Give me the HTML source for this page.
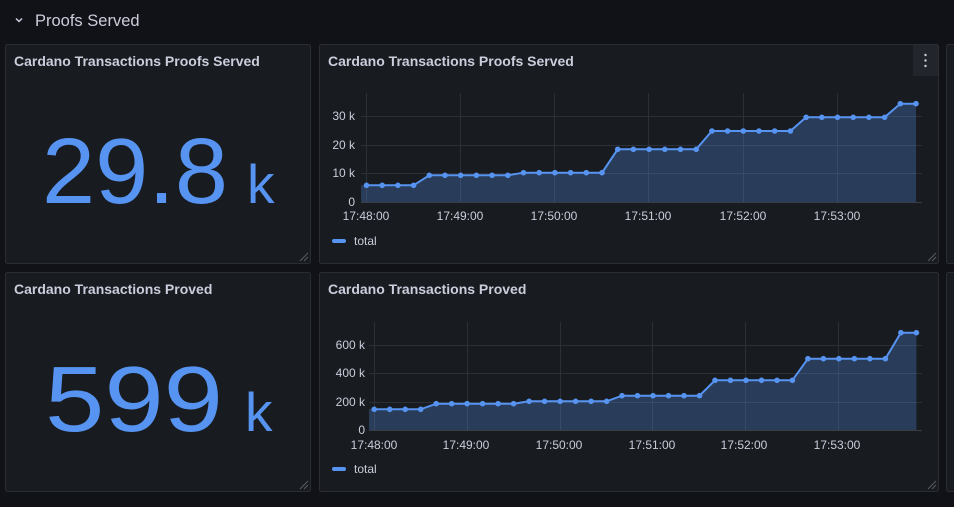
<!DOCTYPE html>
<html><head><meta charset="utf-8"><style>
html,body{margin:0;padding:0;background:#111217;}
svg{display:block;font-family:"Liberation Sans",sans-serif;}
</style></head><body>
<svg width="954" height="507" viewBox="0 0 954 507" xmlns="http://www.w3.org/2000/svg">
<defs>
<marker id="dot" viewBox="0 0 6 6" refX="3" refY="3" markerWidth="6" markerHeight="6" markerUnits="userSpaceOnUse"><circle cx="3" cy="3" r="2.8" fill="#5794f2"/></marker>
</defs>
<rect width="954" height="507" fill="#111217"/>
<path d="M16 18.5 L19 21.5 L22 18.5" fill="none" stroke="#ccccdc" stroke-width="1.5"/>
<text x="35" y="26" font-size="16.5" fill="#ccccdc">Proofs Served</text>

<g fill="#181b1f" stroke="#2a2d33" stroke-width="1">
<rect x="5.5" y="44.5" width="305" height="219" rx="2"/>
<rect x="319.5" y="44.5" width="619" height="219" rx="2"/>
<rect x="946.5" y="44.5" width="20" height="219" rx="2"/>
<rect x="5.5" y="272.5" width="305" height="219" rx="2"/>
<rect x="319.5" y="272.5" width="619" height="219" rx="2"/>
<rect x="946.5" y="272.5" width="20" height="219" rx="2"/>
</g>
<rect x="913" y="45" width="25" height="31" fill="#22252b"/>
<g fill="#ccccdc"><circle cx="925.5" cy="55" r="1.2"/><circle cx="925.5" cy="60.5" r="1.2"/><circle cx="925.5" cy="66" r="1.2"/></g>
<g stroke="#5a5d63" stroke-width="1">
<path d="M300 261 L308 253 M304 261 L308 257"/>
<path d="M928 261 L936 253 M932 261 L936 257"/>
<path d="M300 489 L308 481 M304 489 L308 485"/>
<path d="M928 489 L936 481 M932 489 L936 485"/>
</g>

<g font-size="14" fill="#ccccdc" font-weight="bold">
<text x="14" y="66">Cardano Transactions Proofs Served</text>
<text x="328" y="66">Cardano Transactions Proofs Served</text>
<text x="14" y="294">Cardano Transactions Proved</text>
<text x="328" y="294">Cardano Transactions Proved</text>
</g>

<g fill="#5794f2">
<text x="42" y="203" font-size="93" textLength="186" lengthAdjust="spacingAndGlyphs">29.8</text>
<text x="247" y="203" font-size="55">k</text>
<text x="45" y="431" font-size="93" textLength="178" lengthAdjust="spacingAndGlyphs">599</text>
<text x="245" y="431" font-size="55">k</text>
</g>

<g stroke="#2c2f35" stroke-width="1">
<path d="M366.5 93 V202 M460.5 93 V202 M554.5 93 V202 M648.5 93 V202 M743.5 93 V202 M837.5 93 V202"/>
<path d="M361 173.5 H922 M361 145.5 H922 M361 116.5 H922"/>
<path d="M361 202.5 H922" stroke="#3a3d43"/>
</g>
<g font-size="12" fill="#ccccdc" text-anchor="end">
<text x="355" y="206">0</text><text x="355" y="177">10 k</text><text x="355" y="149">20 k</text><text x="355" y="120">30 k</text>
</g>
<g font-size="12" fill="#ccccdc" text-anchor="middle">
<text x="366" y="220">17:48:00</text><text x="460" y="220">17:49:00</text><text x="554" y="220">17:50:00</text><text x="648" y="220">17:51:00</text><text x="743" y="220">17:52:00</text><text x="837" y="220">17:53:00</text>
</g>
<polygon fill="#5794f2" fill-opacity="0.28" points="361,202 361,185.3 413.6,185.3 429.3,175.3 507.8,175.3 523.5,172.7 602,172.7 617.7,149.3 696.2,149.3 711.9,131 790.4,131 806.1,117.3 884.6,117.3 900.3,103.7 916,103.7 916,202"/>
<polyline fill="none" stroke="#5794f2" stroke-width="2" marker-start="url(#dot)" marker-mid="url(#dot)" marker-end="url(#dot)" points="366.5,185.3 382.2,185.3 397.9,185.3 413.6,185.3 429.3,175.3 445,175.3 460.7,175.3 476.4,175.3 492.1,175.3 507.8,175.3 523.5,172.7 539.2,172.7 554.9,172.7 570.6,172.7 586.3,172.7 602,172.7 617.7,149.3 633.4,149.3 649.1,149.3 664.8,149.3 680.5,149.3 696.2,149.3 711.9,131 727.6,131 743.3,131 759,131 774.7,131 790.4,131 806.1,117.3 821.8,117.3 837.5,117.3 853.2,117.3 868.9,117.3 884.6,117.3 900.3,103.7 916,103.7"/>
<rect x="332" y="239" width="14" height="4" rx="2" fill="#5794f2"/>
<text x="354" y="245" font-size="12" fill="#ccccdc">total</text>

<g stroke="#2c2f35" stroke-width="1">
<path d="M374.5 322 V430 M467.5 322 V430 M560.5 322 V430 M652.5 322 V430 M745.5 322 V430 M838.5 322 V430"/>
<path d="M369 402.5 H922 M369 373.5 H922 M369 345.5 H922"/>
<path d="M369 430.5 H922" stroke="#3a3d43"/>
</g>
<g font-size="12" fill="#ccccdc" text-anchor="end">
<text x="365" y="434">0</text><text x="365" y="406">200 k</text><text x="365" y="377">400 k</text><text x="365" y="349">600 k</text>
</g>
<g font-size="12" fill="#ccccdc" text-anchor="middle">
<text x="374" y="449">17:48:00</text><text x="466" y="449">17:49:00</text><text x="559" y="449">17:50:00</text><text x="652" y="449">17:51:00</text><text x="744" y="449">17:52:00</text><text x="837" y="449">17:53:00</text>
</g>
<polygon fill="#5794f2" fill-opacity="0.28" points="369,430 369,409.3 420.7,409.3 436.2,403.7 513.6,403.7 529.1,401.3 606.6,401.3 622,395.7 699.5,395.7 715,380.3 792.4,380.3 807.9,358.7 885.4,358.7 900.9,332.7 916.4,332.7 916.4,430"/>
<polyline fill="none" stroke="#5794f2" stroke-width="2" marker-start="url(#dot)" marker-mid="url(#dot)" marker-end="url(#dot)" points="374.2,409.3 389.7,409.3 405.2,409.3 420.7,409.3 436.2,403.7 451.7,403.7 467.1,403.7 482.6,403.7 498.1,403.7 513.6,403.7 529.1,401.3 544.6,401.3 560.1,401.3 575.6,401.3 591.1,401.3 606.6,401.3 622,395.7 637.5,395.7 653,395.7 668.5,395.7 684,395.7 699.5,395.7 715,380.3 730.5,380.3 746,380.3 761.5,380.3 777,380.3 792.4,380.3 807.9,358.7 823.4,358.7 838.9,358.7 854.4,358.7 869.9,358.7 885.4,358.7 900.9,332.7 916.4,332.7"/>
<rect x="332" y="467" width="14" height="4" rx="2" fill="#5794f2"/>
<text x="354" y="473" font-size="12" fill="#ccccdc">total</text>
</svg>
</body></html>
